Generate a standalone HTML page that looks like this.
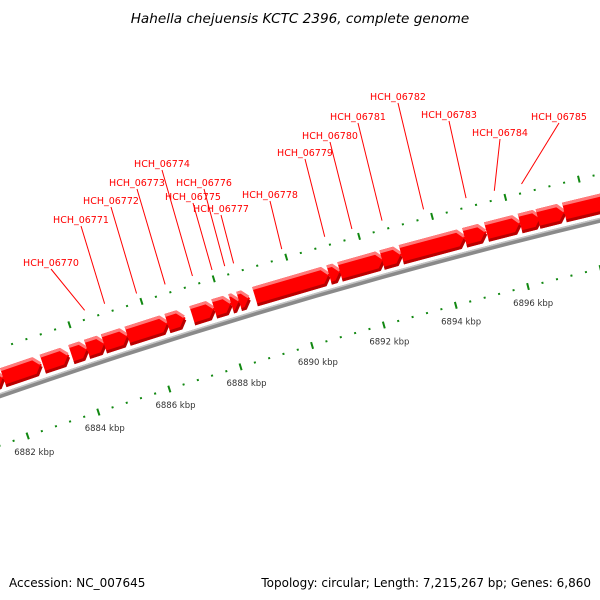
<!DOCTYPE html>
<html><head><meta charset="utf-8"><style>
html,body{margin:0;padding:0;background:#fff}
svg{display:block;font-family:"DejaVu Sans","Liberation Sans",sans-serif}
</style></head><body>
<svg id="chart" width="600" height="600" viewBox="0 0 600 600" xmlns="http://www.w3.org/2000/svg">
<text x="300" y="23" text-anchor="middle" font-size="13.6" font-style="italic" fill="#000">Hahella chejuensis KCTC 2396, complete genome</text>
<g id="rings"></g>
<g id="backbone"></g>
<g id="genes"></g>
<g id="labels"></g>
<text x="9" y="587" font-size="12" fill="#000">Accession: NC_007645</text>
<text x="591" y="587" text-anchor="end" font-size="12" fill="#000">Topology: circular; Length: 7,215,267 bp; Genes: 6,860</text>
</svg>
<script>
// data (kbp)
const geneStarts = [6881.6,6881.89,6883.00,6883.80,6884.24,6884.71,6885.37,6886.48,6887.17,6887.78,6888.25,6888.47,6888.91,6890.96,6891.26,6892.42,6892.95,6894.69,6895.29,6896.21,6896.70,6897.42];
const geneEnds   = [6881.92,6882.97,6883.74,6884.27,6884.76,6885.40,6886.51,6886.98,6887.80,6888.27,6888.50,6888.77,6890.98,6891.29,6892.48,6892.97,6894.71,6895.29,6896.23,6896.79,6897.45,6899.5];
const labelNames = ["HCH_06770","HCH_06771","HCH_06772","HCH_06773","HCH_06774","HCH_06775","HCH_06776","HCH_06777","HCH_06778","HCH_06779","HCH_06780","HCH_06781","HCH_06782","HCH_06783","HCH_06784","HCH_06785"];
const labelGene = [4,5,6,7,8,9,10,11,12,13,14,15,16,17,18,19];
const tickLabels = [6882,6884,6886,6888,6890,6892,6894,6896];
// layout (label text anchor positions in px)
const labelTextX = [51,81,111,137,162,193,204,221,270,305,330,358,398,449,500,559];
const labelTextY = [266,223,204,186,167,200,186,212,198,156,139,120,100,118,136,120];

const NS="http://www.w3.org/2000/svg";
const CX=2083, CY=6405, A0=-109, K0=6882, DEG=0.3386;
function ang(k){return (A0+(k-K0)*DEG)*Math.PI/180;}
function pt(k,R){const t=ang(k);return [CX+R*Math.cos(t),CY+R*Math.sin(t)];}
function mk(tag,attrs,parent){const e=document.createElementNS(NS,tag);for(const a in attrs)e.setAttribute(a,attrs[a]);parent.appendChild(e);return e;}
function arc(k0,k1,R){const p=pt(k0,R),q=pt(k1,R);return `M${p[0]},${p[1]} A${R},${R} 0 0 1 ${q[0]},${q[1]}`;}

// tick rings
const rings=document.getElementById('rings');
[6313,6405].forEach((R,ri)=>{
  for(let i=0;i<=60;i++){
    const k=6878+i*0.4;
    const major=(i%5===0);
    const h=major?3.5:1;
    const a=pt(k,R-h),b=pt(k,R+h);
    const ln=mk('line',{x1:a[0],y1:a[1],x2:b[0],y2:b[1],stroke:'#118811','stroke-width':2},rings);
    
    
  }
});
tickLabels.forEach(k=>{
  const p=pt(k,6296);
  const t=mk('text',{x:p[0]+1,y:p[1]+3,'text-anchor':'middle','font-size':'8.5',fill:'#333'},rings);
  t.textContent=k+' kbp';
  
  
});

// backbone
const bb=document.getElementById('backbone');
const b1=mk('path',{d:arc(6878,6902,6360),stroke:'#8a8a8a','stroke-width':5,fill:'none'},bb);


const b2=mk('path',{d:arc(6878,6902,6361.8),stroke:'#c4c4c4','stroke-width':1.5,fill:'none'},bb);



// genes
const gg=document.getElementById('genes');
const RI=6366, RO=6386, RM=6376, HEAD=7/37.7;
geneStarts.forEach((s,i)=>{
  const e=geneEnds[i];
  const hs=Math.max(s,e-HEAD);
  const P=[pt(s,RI),pt(hs,RI),pt(e,RM),pt(hs,RO),pt(s,RO)];
  const poly=mk('polygon',{points:P.map(p=>p.join(',')).join(' '),fill:'#f00'},gg);
  
  
  const T=[pt(s,RO-1.5),pt(hs,RO-1.5),pt(e-(e-hs)*0.15,RM+1.5)];
  const top=mk('polyline',{points:T.map(p=>p.join(',')).join(' '),stroke:'#ff7a7a','stroke-width':3,fill:'none'},gg);
  
  
  const B=[pt(s,RI+1.5),pt(hs,RI+1.5),pt(e-(e-hs)*0.15,RM-1.5)];
  const bot=mk('polyline',{points:B.map(p=>p.join(',')).join(' '),stroke:'#b80000','stroke-width':3,fill:'none'},gg);
  
  
});

// labels
const lg=document.getElementById('labels');
labelNames.forEach((n,i)=>{
  const g=labelGene[i];
  const mid=(geneStarts[g]+geneEnds[g])/2;
  const p=pt(mid,6414);
  const ln=mk('line',{x1:labelTextX[i],y1:labelTextY[i]+3,x2:p[0],y2:p[1],stroke:'#f00','stroke-width':1},lg);
  
  
  const t=mk('text',{x:labelTextX[i],y:labelTextY[i],'text-anchor':'middle','font-size':'9.5',fill:'#f00'},lg);
  t.textContent=n;
  
  
});
</script>
</body></html>
